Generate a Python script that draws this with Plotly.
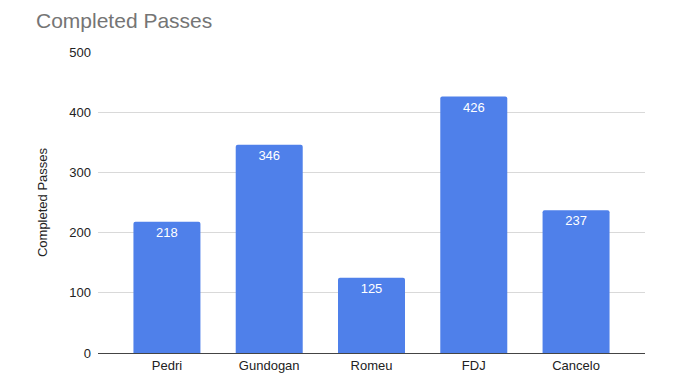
import plotly.graph_objects as go

players = ["Pedri", "Gundogan", "Romeu", "FDJ", "Cancelo"]
passes = [218, 346, 125, 426, 237]
y_ticks = [0, 100, 200, 300, 400, 500]

W, H = 672, 379  # page body has an 8px margin

fig = go.Figure(go.Bar(
    x=players, y=passes,
    marker=dict(color="#4f80ea", cornerradius=2, line=dict(width=0)),
    text=[str(v) for v in passes],
    textposition="inside", insidetextanchor="end",
    textfont=dict(color="white", size=13, family="Liberation Sans, Arial"),
    cliponaxis=False,
))

fig.update_layout(
    width=W, height=H,
    margin=dict(l=90, r=35, t=44, b=34),
    paper_bgcolor="white", plot_bgcolor="white",
    bargap=0.345,
    font=dict(family="Liberation Sans, Arial", size=13, color="#222222"),
    title=dict(text="Completed Passes", x=28/W, xanchor="left", y=1-13/H, yanchor="middle",
               font=dict(size=21, color="#757575", family="Liberation Sans, Arial")),
    showlegend=False,
)
fig.update_xaxes(range=[-0.674, 4.674], showgrid=False, showline=True, linecolor="#444444",
                 linewidth=1, ticks="", tickfont=dict(size=13, color="#222222"))
fig.update_yaxes(range=[0, 500], tickvals=y_ticks, showgrid=True, gridcolor="#d9d9d9",
                 zeroline=False, showline=False, ticks="", ticklabelstandoff=6,
                 tickfont=dict(size=13, color="#222222"),
                 title=dict(text="Completed Passes", font=dict(size=13, color="#222222"), standoff=18))

fig.write_html("out.html")
